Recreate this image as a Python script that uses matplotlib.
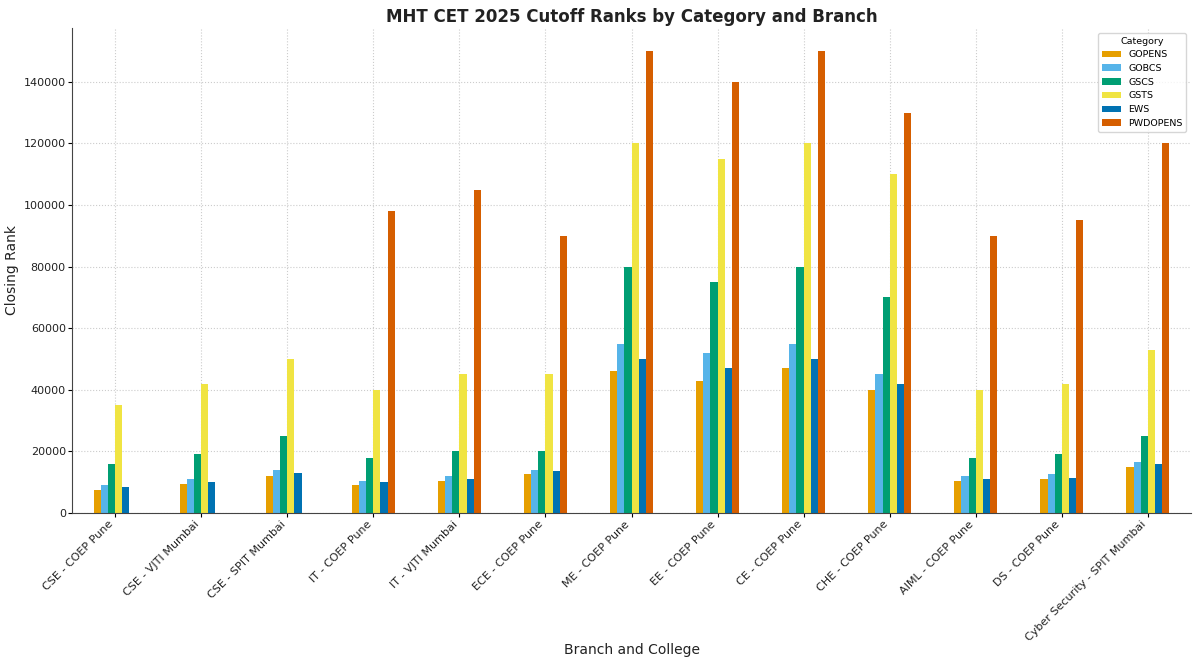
import numpy as np
import pandas as pd
import matplotlib
matplotlib.use("Agg")
import matplotlib.pyplot as plt

branches = ["CSE - COEP Pune", "CSE - VJTI Mumbai", "CSE - SPIT Mumbai", "IT - COEP Pune",
            "IT - VJTI Mumbai", "ECE - COEP Pune", "ME - COEP Pune", "EE - COEP Pune",
            "CE - COEP Pune", "CHE - COEP Pune", "AIML - COEP Pune", "DS - COEP Pune",
            "Cyber Security - SPIT Mumbai"]
gopens = [7500, 9500, 12000, 9000, 10500, 12500, 46000, 43000, 47000, 40000, 10500, 11000, 15000]
gobcs = [9000, 11000, 14000, 10500, 12000, 14000, 55000, 52000, 55000, 45000, 12000, 12500, 16500]
gscs = [16000, 19000, 25000, 18000, 20000, 20000, 80000, 75000, 80000, 70000, 18000, 19000, 25000]
gsts = [35000, 42000, 50000, 40000, 45000, 45000, 120000, 115000, 120000, 110000, 40000, 42000, 53000]
ews = [8500, 10000, 13000, 10000, 11000, 13500, 50000, 47000, 50000, 42000, 11000, 11500, 16000]
pwdopens = [np.nan, np.nan, np.nan, 98000, 105000, 90000, 150000, 140000, 150000, 130000, 90000, 95000, 120000]

series_names = ["GOPENS", "GOBCS", "GSCS", "GSTS", "EWS", "PWDOPENS"]
colors = ["#E69F00", "#56B4E9", "#009E73", "#F0E442", "#0072B2", "#D55E00"]

df = pd.DataFrame({"GOPENS": gopens, "GOBCS": gobcs, "GSCS": gscs, "GSTS": gsts,
                   "EWS": ews, "PWDOPENS": pwdopens}, index=branches)

fig = plt.figure(figsize=(12, 6.67), dpi=100)
ax = fig.add_axes([0.06, 0.231, 0.9325, 0.727])
df.plot(kind="bar", ax=ax, color=colors, width=0.5)

ax.set_title("MHT CET 2025 Cutoff Ranks by Category and Branch", fontsize=12, fontweight="bold",
             color="#222222", pad=4)
ax.set_xlabel("Branch and College", fontsize=10, color="#222222", labelpad=0)
ax.set_ylabel("Closing Rank", fontsize=10, color="#222222", labelpad=3)
ax.set_xticklabels(branches, rotation=45, ha="right", fontsize=8, color="#222222")
ax.tick_params(axis="y", labelsize=8, labelcolor="#222222", length=3, pad=1.5)
ax.tick_params(axis="x", length=3, pad=1.5)
ax.set_xlim(-0.5, len(branches) - 0.5)
ax.set_ylim(0, 157500)
ax.grid(True, linestyle=":", color="#cccccc", linewidth=0.8)
ax.set_axisbelow(True)
for s in ["top", "right"]:
    ax.spines[s].set_visible(False)
for s in ["left", "bottom"]:
    ax.spines[s].set_color("#444444")
leg = ax.legend(title="Category", fontsize=6.8, title_fontsize=6.8, loc="upper right")

fig.savefig("out.png", dpi=100)
